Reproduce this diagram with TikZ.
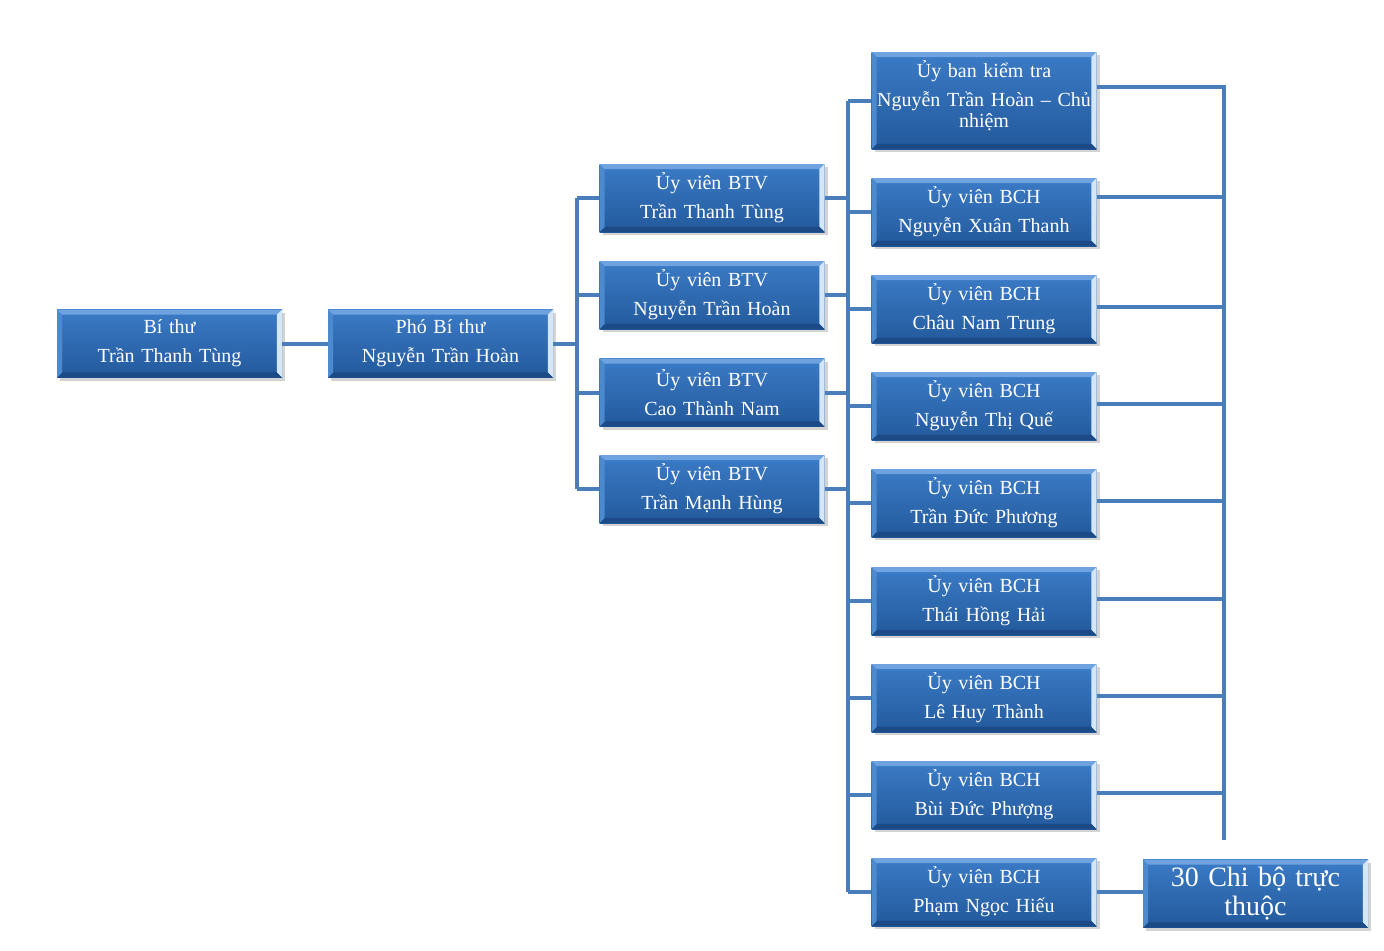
\documentclass[tikz,border=0pt]{standalone}
\usepackage{fontspec}
\setmainfont{Liberation Serif}
\usepackage{xcolor}
\usetikzlibrary{shadows}

\definecolor{boxtop}{HTML}{3B7BC6}
\definecolor{boxbot}{HTML}{23599C}
\definecolor{bevtop}{HTML}{6FA3DF}
\definecolor{bevright}{HTML}{D4E7F8}
\definecolor{bevbot}{HTML}{1C4A86}
\definecolor{bevleft}{HTML}{4C8AD0}
\definecolor{linkblue}{HTML}{4A7EBB}

\newlength\bev \setlength\bev{2.6pt}
\newcommand{\bevel}{%
    \path (path picture bounding box.north west) coordinate (nw)
          (path picture bounding box.north east) coordinate (ne)
          (path picture bounding box.south west) coordinate (sw)
          (path picture bounding box.south east) coordinate (se);
    \fill[bevtop] (nw) -- (ne) -- ([shift={(-\bev,-\bev)}]ne) -- ([shift={(\bev,-\bev)}]nw) -- cycle;
    \fill[bevright] (ne) -- (se) -- ([shift={(-\bev,\bev)}]se) -- ([shift={(-\bev,-\bev)}]ne) -- cycle;
    \fill[bevbot] (sw) -- (se) -- ([shift={(-\bev,\bev)}]se) -- ([shift={(\bev,\bev)}]sw) -- cycle;
    \fill[bevleft] (nw) -- (sw) -- ([shift={(\bev,\bev)}]sw) -- ([shift={(\bev,-\bev)}]nw) -- cycle;
}

\begin{document}
\begin{tikzpicture}[x=0.5pt,y=-0.5pt,
    box/.style={minimum width=112.5pt,minimum height=34pt,inner sep=0pt,
                text width=110pt,align=center,text=white,
                font=\fontsize{10}{11.5}\selectfont,
                top color=boxtop,bottom color=boxbot,
                drop shadow={opacity=0.35,shadow xshift=1.5pt,shadow yshift=-1.5pt},
                path picture={\bevel}},
    link/.style={linkblue,line width=2pt}]

    \useasboundingbox (0,0) rectangle (1384,950);

    % left part
    \node[box] (bithu) at (169.5,343.5) {Bí thư\\[3pt]Trần Thanh Tùng};
    \node[box] (phobithu) at (440.5,343.5) {Phó Bí thư\\[3pt]Nguyễn Trần Hoàn};

    % ban thuong vu
    \node[box] (btv1) at (712,198) {Ủy viên BTV\\[3pt]Trần Thanh Tùng};
    \node[box] (btv2) at (712,295) {Ủy viên BTV\\[3pt]Nguyễn Trần Hoàn};
    \node[box] (btv3) at (712,392.5) {Ủy viên BTV\\[3pt]Cao Thành Nam};
    \node[box] (btv4) at (712,489) {Ủy viên BTV\\[3pt]Trần Mạnh Hùng};

    % ban chap hanh
    \node[box,minimum height=48.5pt,font=\fontsize{10}{10.5}\selectfont] (ubkt) at (984,100.5)
        {Ủy ban kiểm tra\\[4pt]Nguyễn Trần Hoàn – Chủ\\nhiệm\par\vspace{5pt}};
    \node[box] (bch1) at (984,212) {Ủy viên BCH\\[3pt]Nguyễn Xuân Thanh};
    \node[box] (bch2) at (984,309) {Ủy viên BCH\\[3pt]Châu Nam Trung};
    \node[box] (bch3) at (984,406) {Ủy viên BCH\\[3pt]Nguyễn Thị Quế};
    \node[box] (bch4) at (984,503) {Ủy viên BCH\\[3pt]Trần Đức Phương};
    \node[box] (bch5) at (984,601) {Ủy viên BCH\\[3pt]Thái Hồng Hải};
    \node[box] (bch6) at (984,698) {Ủy viên BCH\\[3pt]Lê Huy Thành};
    \node[box] (bch7) at (984,795) {Ủy viên BCH\\[3pt]Bùi Đức Phượng};
    \node[box] (bch8) at (984,892) {Ủy viên BCH\\[3pt]Phạm Ngọc Hiếu};

    \node[box,font=\fontsize{14}{14.5}\selectfont] (chibo) at (1255.5,893.5)
        {30 Chi bộ trực\\thuộc};

    % buses
    \coordinate (busA) at (577,0);
    \coordinate (busB) at (848,0);
    \coordinate (busC) at (1224,0);
    \coordinate (endC) at (1224,840);

    \draw[link] (bithu) -- (phobithu);
    \draw[link] (phobithu.east) -- (busA |- phobithu.east);
    \draw[link] (busA |- btv1) -- (busA |- btv4);
    \foreach \i in {1,...,4}
        \draw[link] (busA |- btv\i) -- (btv\i.west);

    \draw[link] (busB |- ubkt) -- (busB |- bch8);
    \foreach \i in {1,...,4}
        \draw[link] (btv\i.east) -- (busB |- btv\i.east);
    \foreach \j in {ubkt,bch1,bch2,bch3,bch4,bch5,bch6,bch7,bch8}
        \draw[link] (busB |- \j.west) -- (\j.west);

    \draw[link] ([yshift=7pt]ubkt.east) -| (endC);
    \draw[link] ([yshift=7.5pt]bch1.east) coordinate (p) -- (p -| busC);
    \foreach \j in {bch2,bch3,bch4,bch5,bch6,bch7}
        \draw[link] ([yshift=1pt]\j.east) coordinate (p) -- (p -| busC);
    \draw[link] (bch8.east) -- (bch8.east -| chibo.west);
\end{tikzpicture}
\end{document}
